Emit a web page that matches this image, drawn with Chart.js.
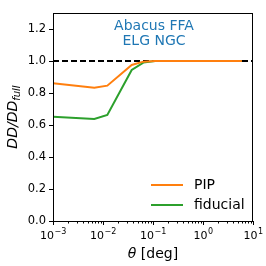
<!DOCTYPE html>
<html>
<head>
<meta charset="utf-8">
<script src="https://cdn.jsdelivr.net/npm/chart.js@4/dist/chart.umd.min.js"></script>
<style>
  html, body { margin: 0; padding: 0; background: #fff; }
</style>
</head>
<body>
<canvas id="grafico" width="266" height="266"></canvas>
<script>
// datos
const theta = [0.001, 0.0067, 0.0122, 0.0375, 0.064, 0.11, 0.3, 1, 3, 6];
const pip = [0.861, 0.833, 0.846, 0.975, 0.996, 1.0, 1.0, 1.0, 1.0, 1.0];
const fiducial = [0.652, 0.638, 0.663, 0.944, 0.99, 1.0, 1.0, 1.0, 1.0, 1.0];
const seriesLabels = ['PIP', 'fiducial'];
const seriesColors = ['#ff7f0e', '#2ca02c'];
const refTheta = [0.001, 10];
const refValue = [1.0, 1.0];
const xTicks = [1e-3, 1e-2, 1e-1, 1e0, 1e1];
const xTickExps = ['−3', '−2', '−1', '0', '1'];
const yTicks = [0, 0.2, 0.4, 0.6, 0.8, 1.0, 1.2];
const titleLines = ['Abacus FFA', 'ELG NGC'];

const FONT = "'DejaVu Sans', sans-serif";

function puntos(xs, ys) {
    return xs.map((x, i) => ({ x: x, y: ys[i] }));
}

const extras = {
    id: 'extras',
    afterDraw(chart) {
        const ctx = chart.ctx;
        const a = chart.chartArea;
        const xs = chart.scales.x;
        ctx.save();
        // marco
        ctx.strokeStyle = '#000';
        ctx.lineWidth = 1;
        ctx.strokeRect(a.left + 0.5, a.top + 0.5, a.right - a.left - 1, a.bottom - a.top);
        // ticks menores
        for (let d = -3; d < 1; d++) {
            for (let k = 2; k <= 9; k++) {
                const px = Math.round(xs.getPixelForValue(k * Math.pow(10, d))) + 0.5;
                ctx.beginPath();
                ctx.moveTo(px, a.bottom);
                ctx.lineTo(px, a.bottom + 2.5);
                ctx.stroke();
            }
        }
        // etiquetas del eje x (10 con exponente)
        ctx.fillStyle = '#000';
        ctx.textAlign = 'left';
        ctx.textBaseline = 'alphabetic';
        xTicks.forEach((v, i) => {
            ctx.font = '11px ' + FONT;
            const wb = ctx.measureText('10').width;
            ctx.font = '8px ' + FONT;
            const we = ctx.measureText(xTickExps[i]).width;
            const x0 = xs.getPixelForValue(v) - (wb + we) / 2;
            ctx.font = '11px ' + FONT;
            ctx.fillText('10', x0, 239);
            ctx.font = '8px ' + FONT;
            ctx.fillText(xTickExps[i], x0 + wb + 0.5, 234);
        });
        // titulo del eje y
        ctx.translate(13, (a.top + a.bottom) / 2);
        ctx.rotate(-Math.PI / 2);
        ctx.font = 'italic 14px ' + FONT;
        const w1 = ctx.measureText('DD/DD').width;
        ctx.font = 'italic 10px ' + FONT;
        const w2 = ctx.measureText('full').width;
        ctx.textBaseline = 'middle';
        ctx.font = 'italic 14px ' + FONT;
        ctx.fillText('DD/DD', -(w1 + w2) / 2, 0);
        ctx.font = 'italic 10px ' + FONT;
        ctx.fillText('full', -(w1 + w2) / 2 + w1, 4);
        ctx.setTransform(1, 0, 0, 1, 0, 0);
        // titulo del eje x
        ctx.font = 'italic 14px ' + FONT;
        const t1 = ctx.measureText('θ').width;
        ctx.font = '14px ' + FONT;
        const t2 = ctx.measureText(' [deg]').width;
        const cx = (a.left + a.right) / 2;
        ctx.font = 'italic 14px ' + FONT;
        ctx.fillText('θ', cx - (t1 + t2) / 2, 254);
        ctx.font = '14px ' + FONT;
        ctx.fillText(' [deg]', cx - (t1 + t2) / 2 + t1, 254);
        // texto dentro
        ctx.fillStyle = '#1f77b4';
        ctx.textAlign = 'center';
        ctx.font = '14px ' + FONT;
        titleLines.forEach((t, i) => ctx.fillText(t, cx + 1, 26 + i * 15.5));
        // leyenda
        ctx.textAlign = 'left';
        ctx.lineWidth = 2;
        seriesLabels.forEach((lab, i) => {
            const y = 185 + i * 20;
            ctx.strokeStyle = seriesColors[i];
            ctx.beginPath();
            ctx.moveTo(151, y);
            ctx.lineTo(183, y);
            ctx.stroke();
            ctx.fillStyle = '#000';
            ctx.fillText(lab, 194, y);
        });
        ctx.restore();
    }
};

const grafico = new Chart(document.getElementById('grafico').getContext('2d'), {
    type: 'line',
    data: {
        datasets: [
            {
                label: seriesLabels[0],
                data: puntos(theta, pip),
                borderColor: seriesColors[0],
                borderWidth: 2,
                pointRadius: 0,
                fill: false
            },
            {
                label: seriesLabels[1],
                data: puntos(theta, fiducial),
                borderColor: seriesColors[1],
                borderWidth: 2,
                pointRadius: 0,
                fill: false
            },
            {
                label: '',
                data: puntos(refTheta, refValue),
                borderColor: '#000',
                borderWidth: 2,
                borderDash: [6, 3],
                pointRadius: 0,
                fill: false
            }
        ]
    },
    options: {
        responsive: false,
        animation: false,
        devicePixelRatio: 1,
        layout: { padding: { top: 13, right: 13, left: 0, bottom: 0 } },
        plugins: {
            legend: { display: false },
            tooltip: { enabled: false }
        },
        scales: {
            x: {
                type: 'logarithmic',
                min: 1e-3,
                max: 10,
                afterBuildTicks: (s) => { s.ticks = xTicks.map(v => ({ value: v })); },
                afterFit: (s) => { s.height = 45; },
                ticks: {
                    autoSkip: false,
                    maxRotation: 0,
                    padding: 1,
                    color: 'rgba(0,0,0,0)',
                    font: { family: FONT, size: 11.5 },
                    callback: () => '10'
                },
                grid: { drawOnChartArea: false, tickLength: 4, tickColor: '#000' },
                border: { color: '#000', width: 1 }
            },
            y: {
                min: 0,
                max: 1.3,
                afterBuildTicks: (s) => { s.ticks = yTicks.map(v => ({ value: v })); },
                afterFit: (s) => { s.width = 53; },
                ticks: {
                    padding: 3,
                    color: '#000',
                    font: { family: FONT, size: 11.5 },
                    callback: (v) => v.toFixed(1)
                },
                grid: { drawOnChartArea: false, tickLength: 4, tickColor: '#000' },
                border: { color: '#000', width: 1 }
            }
        }
    },
    plugins: [extras]
});
</script>
</body>
</html>
